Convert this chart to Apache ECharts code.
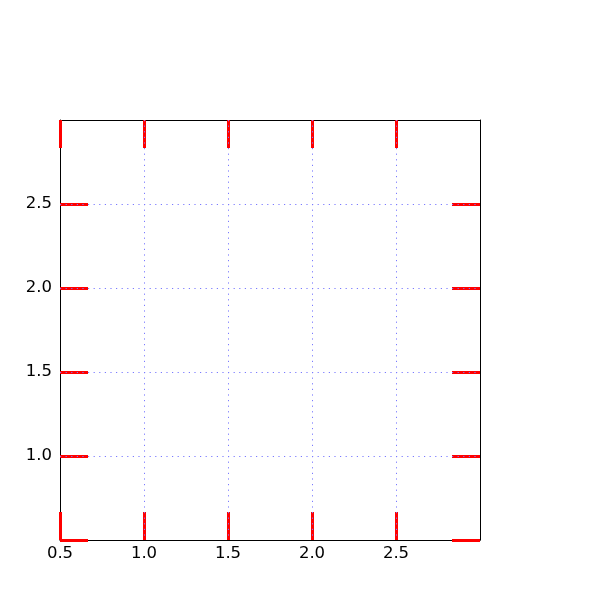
<!DOCTYPE html>
<html><head><meta charset="utf-8">
<script src="https://cdn.jsdelivr.net/npm/echarts@6/dist/echarts.min.js"></script>
<style>html,body{margin:0;padding:0;background:#fff}#c{width:600px;height:600px}</style>
</head><body><div id="c"></div>
<script>
const axisMin = 0.5;
const axisMax = 3.0;
const tickStep = 0.5;
const xTickValues = [0.5, 1.0, 1.5, 2.0, 2.5];
const yTickValues = [0.5, 1.0, 1.5, 2.0, 2.5];
const xLabelValues = [0.5, 1.0, 1.5, 2.0, 2.5];
const yLabelValues = [1.0, 1.5, 2.0, 2.5];

const font = 'DejaVu Sans';
const tickStyle = {show: true, inside: true, length: 28, lineStyle: {color: '#ff0000', width: 3}};
const lineStyle = {show: true, onZero: false, lineStyle: {color: '#000', width: 1}};

function tickAxis(pos, ticks, labels, isX) {
  return {
    type: 'value', position: pos, min: axisMin, max: axisMax, interval: tickStep, z: 2,
    axisLine: lineStyle,
    axisTick: Object.assign({customValues: ticks}, tickStyle),
    axisLabel: labels ? {show: true, customValues: labels, color: '#000', fontFamily: font, fontSize: 16.5,
      margin: isX ? 5 : 8, formatter: v => v.toFixed(1)} : {show: false},
    splitLine: {show: false}
  };
}
function gridAxis(pos) {
  return {
    type: 'value', position: pos, min: axisMin, max: axisMax, interval: tickStep, z: 5,
    axisLine: {show: false}, axisTick: {show: false}, axisLabel: {show: false},
    splitLine: {show: true, showMinLine: false, showMaxLine: false,
      lineStyle: {color: '#7a7aff', width: 1, type: [1.2, 4.4]}}
  };
}

const chart = echarts.init(document.getElementById('c'), null, {renderer: 'canvas'});
chart.setOption({
  animation: false,
  grid: {left: 60, top: 120, width: 420, height: 420, containLabel: false},
  xAxis: [
    tickAxis('bottom', xTickValues, xLabelValues, true),
    tickAxis('top', xTickValues, null, true),
    gridAxis('bottom')
  ],
  yAxis: [
    tickAxis('left', yTickValues, yLabelValues, false),
    tickAxis('right', yTickValues, null, false),
    gridAxis('left')
  ],
  series: [{type: 'scatter', data: [], xAxisIndex: 0, yAxisIndex: 0}]
});
</script></body></html>
